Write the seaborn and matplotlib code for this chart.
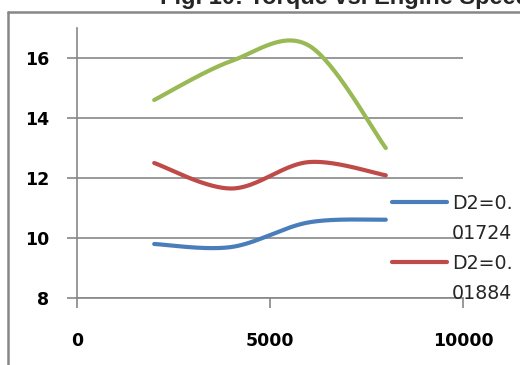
import numpy as np
import pandas as pd
import matplotlib
matplotlib.use("Agg")
import matplotlib.pyplot as plt
from matplotlib.lines import Line2D
import seaborn as sns

# Engine speed (rpm) and torque readings for three D2 settings
speed = [2000, 4000, 6000, 8000]
torque_d2_01724 = [9.8, 9.7, 10.52, 10.61]
torque_d2_01884 = [12.5, 11.65, 12.53, 12.09]
torque_d2_third = [14.6, 15.9, 16.42, 13.0]

series_names = ["D2=0.01724", "D2=0.01884", "D2=third"]
series_values = [torque_d2_01724, torque_d2_01884, torque_d2_third]
series_colors = ["#4A7EBB", "#BE4B48", "#98B954"]
legend_lines = [("D2=0.", "01724"), ("D2=0.", "01884")]

x_ticks = [0, 5000, 10000]
y_ticks = [8, 10, 12, 14, 16]
title = "Fig. 10: Torque vs. Engine Speed"


def smooth(xs, ys, n=60):
    """Bezier smoothing through every point (Catmull-Rom control points)."""
    p = np.column_stack([xs, ys]).astype(float)
    p_ext = np.vstack([p[0], p, p[-1]])
    out = []
    for i in range(len(p) - 1):
        p0, p1, p2, p3 = p_ext[i], p_ext[i + 1], p_ext[i + 2], p_ext[i + 3]
        b1 = p1 + (p2 - p0) / 6.0
        b2 = p2 - (p3 - p1) / 6.0
        t = np.linspace(0, 1, n)[:, None]
        seg = ((1 - t) ** 3) * p1 + 3 * ((1 - t) ** 2) * t * b1 \
            + 3 * (1 - t) * t ** 2 * b2 + t ** 3 * p2
        out.append(seg if i == 0 else seg[1:])
    return np.vstack(out)


sns.set_theme(style="white")
plt.rcParams["font.family"] = ["DejaVu Sans"]

fig = plt.figure(figsize=(5.2, 3.65), dpi=100)
ax = fig.add_axes([77 / 520, 1 - 298 / 365, (463 - 77) / 520, (298 - 28) / 365])

grid_c = "#878787"
handles = []
for name, vals, col in zip(series_names, series_values, series_colors):
    curve = smooth(speed, vals)
    df = pd.DataFrame({"speed": curve[:, 0], "torque": curve[:, 1]})
    sns.lineplot(data=df, x="speed", y="torque", ax=ax, color=col,
                 linewidth=3.0, sort=False, estimator=None,
                 solid_capstyle="round")
    handles.append(Line2D([], [], color=col, linewidth=3.0,
                          solid_capstyle="round"))

ax.set_xlim(0, 10000)
ax.set_ylim(8, 17)
ax.set_xticks(x_ticks)
ax.set_yticks(y_ticks)
ax.set_xlabel("")
ax.set_ylabel("")
ax.yaxis.grid(True, color=grid_c, linewidth=1.2)
ax.xaxis.grid(False)
for side in ("top", "right"):
    ax.spines[side].set_visible(False)
for side in ("left", "bottom"):
    ax.spines[side].set_color(grid_c)
    ax.spines[side].set_linewidth(1.2)
ax.tick_params(axis="both", direction="out", length=7, width=1.2,
               color=grid_c, labelsize=12.5, labelcolor="black")
ax.tick_params(axis="y", pad=13, left=True)
ax.tick_params(axis="x", pad=17.5, bottom=True)
for lab in ax.get_xticklabels() + ax.get_yticklabels():
    lab.set_fontweight("bold")

# Legend: each label wraps onto a second line
leg_handles, leg_labels = [], []
for h, (first, second) in zip(handles, legend_lines):
    leg_handles += [h, Line2D([], [], color="none")]
    leg_labels += [first, second]
leg = fig.legend(leg_handles, leg_labels, loc="upper left",
                 bbox_to_anchor=(392 / 520, 1 - 194 / 365),
                 frameon=False, fontsize=13.7, handlelength=2.9,
                 handletextpad=0.25, labelspacing=0.58,
                 borderaxespad=0, borderpad=0)

# Chart area border
border_kw = dict(color=grid_c, linewidth=1.8, transform=fig.transFigure)
fig.add_artist(Line2D([8 / 520, 8 / 520], [0, 1 - 12 / 365], **border_kw))
fig.add_artist(Line2D([8 / 520, 1], [1 - 12 / 365, 1 - 12 / 365], **border_kw))

fig.text(160 / 520, 1 - 4 / 365, title, ha="left", va="baseline",
         fontsize=17, fontweight="bold", family=["Liberation Sans", "DejaVu Sans"])

fig.savefig("out.png", dpi=100)
